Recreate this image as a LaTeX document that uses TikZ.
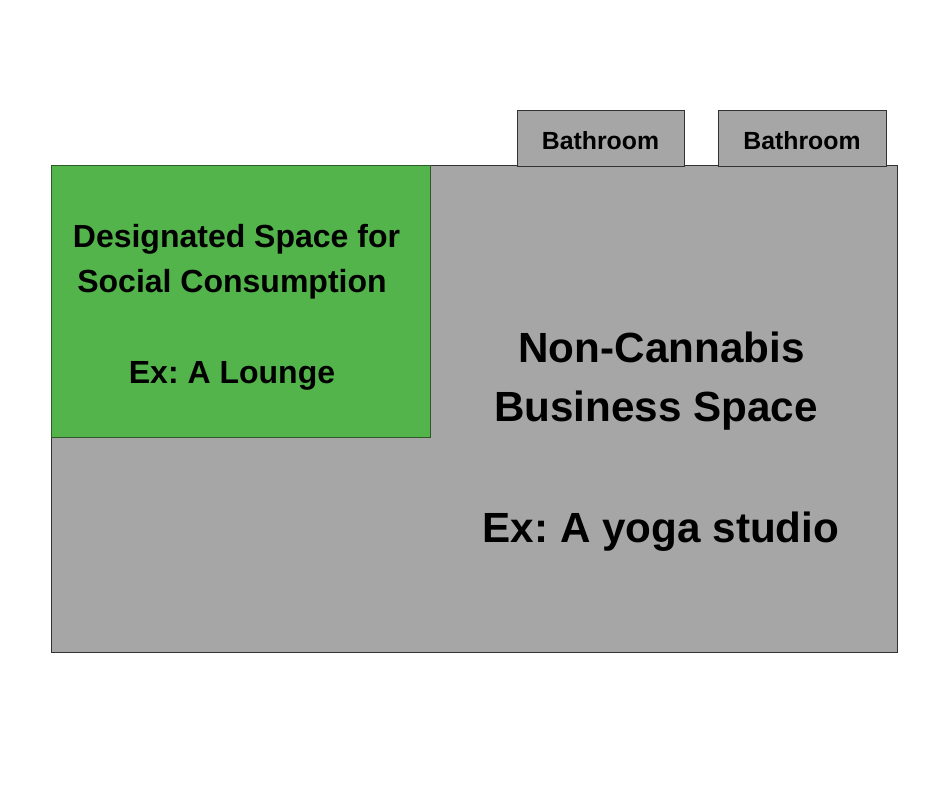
\documentclass[tikz,border=0pt]{standalone}
\usepackage{fontspec}
\setmainfont{Liberation Sans}
\frenchspacing
\definecolor{roomgray}{RGB}{166,166,166}
\definecolor{lounge}{RGB}{83,180,75}
\definecolor{edgegray}{RGB}{50,50,50}
\definecolor{edgegreen}{RGB}{45,90,40}
\begin{document}
\begin{tikzpicture}[x=1pt,y=-1pt,
  room/.style={draw=edgegray,line width=0.9pt,fill=roomgray},
  txt/.style={text=black,inner sep=0pt,align=center,anchor=base},
  small/.style={txt,font=\bfseries\fontsize{24.8}{28}\selectfont},
  mid/.style={txt,font=\bfseries\fontsize{32}{45.5}\selectfont},
  big/.style={txt,font=\bfseries\fontsize{42.2}{60}\selectfont}]
\useasboundingbox[fill=white] (0,0) rectangle (940,788);
% main space
\path[room] (51,165) rectangle (897,652);
% bathrooms
\path[room] (517,110) rectangle (684,166);
\path[room] (718,110) rectangle (886,166);
\node[small] (bath1) at (600.5,149) {Bathroom};
\node[small] (bath2) at (802,149) {Bathroom};
% lounge
\path[fill=lounge,draw=edgegreen,line width=0.9pt] (51,165) rectangle (430,437);
\node[mid] (l1) at (236.5,247) {Designated Space for};
\node[mid] (l2) at (232,292) {Social Consumption};
\node[mid] (l3) at (232,383) {Ex: A Lounge};
% business space text
\node[big] (b1) at (661.5,362) {Non-Cannabis};
\node[big] (b2) at (656,421) {Business Space};
\node[big] (b3) at (661,542) {Ex: A yoga studio};
\end{tikzpicture}
\end{document}
